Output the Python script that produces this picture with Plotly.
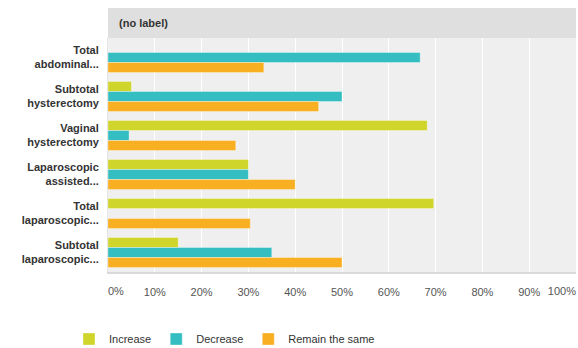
import plotly.graph_objects as go

categories = ["Total abdominal...", "Subtotal hysterectomy", "Vaginal hysterectomy",
              "Laparoscopic assisted...", "Total laparoscopic...", "Subtotal laparoscopic..."]
category_labels = ["<b>Total<br>abdominal...</b>", "<b>Subtotal<br>hysterectomy</b>",
                   "<b>Vaginal<br>hysterectomy</b>", "<b>Laparoscopic<br>assisted...</b>",
                   "<b>Total<br>laparoscopic...</b>", "<b>Subtotal<br>laparoscopic...</b>"]
series_names = ["Increase", "Decrease", "Remain the same"]
increase = [0, 5, 68.2, 30, 69.6, 15]
decrease = [66.7, 50, 4.5, 30, 0, 35]
remain = [33.3, 45, 27.3, 40, 30.4, 50]
colors = ["#cfd52a", "#34bec1", "#f8af21"]
mid_ticks = [10, 20, 30, 40, 50, 60, 70, 80, 90]
mid_tick_text = ["10%", "20%", "30%", "40%", "50%", "60%", "70%", "80%", "90%"]

font = "Liberation Sans, Arial, sans-serif"
fig = go.Figure()
for name, vals, col in zip(series_names, [increase, decrease, remain], colors):
    fig.add_trace(go.Bar(y=categories, x=vals, name=name, orientation="h",
                         marker=dict(color=col, line=dict(color="rgba(255,255,255,0.35)", width=1))))

# helper invisible traces for edge tick axes
fig.add_trace(go.Scatter(x=[0], y=[categories[0]], xaxis="x2", mode="markers",
                         marker=dict(opacity=0), showlegend=False, hoverinfo="skip"))
fig.add_trace(go.Scatter(x=[100], y=[categories[0]], xaxis="x3", mode="markers",
                         marker=dict(opacity=0), showlegend=False, hoverinfo="skip"))

tickfont = dict(family=font, size=11, color="#555555")
fig.update_layout(
    width=578, height=348,
    margin=dict(l=108, r=2, t=38, b=76, autoexpand=False),
    paper_bgcolor="white", plot_bgcolor="#efefef",
    barmode="group", bargap=0.23, bargroupgap=0,
    font=dict(family=font, size=11, color="#333333"),
    xaxis=dict(range=[0, 100], tickvals=mid_ticks, ticktext=mid_tick_text,
               showgrid=True, gridcolor="white", gridwidth=1, zeroline=False,
               showline=True, linecolor="#d9d9d9", linewidth=2, automargin=False,
               tickfont=tickfont, ticklabelstandoff=9, fixedrange=True),
    xaxis2=dict(range=[0, 100], overlaying="x", anchor="y", side="bottom",
                tickvals=[0], ticktext=["0%"], ticklabelposition="outside right",
                showgrid=False, zeroline=False, showline=False, tickfont=tickfont,
                ticklabelstandoff=11, automargin=False),
    xaxis3=dict(range=[0, 100], overlaying="x", anchor="y", side="bottom",
                tickvals=[100], ticktext=["100%"], ticklabelposition="outside left",
                showgrid=False, zeroline=False, showline=False, tickfont=tickfont,
                ticklabelstandoff=11, automargin=False),
    yaxis=dict(autorange="reversed", tickvals=categories, ticktext=category_labels,
               showgrid=False, showline=True, linecolor="#e4e4e4", linewidth=1,
               automargin=False,
               tickfont=dict(family=font, size=11, color="#333333"), ticklabelstandoff=6),
    legend=dict(orientation="h", xref="container", yref="container",
                x=69 / 578, xanchor="left", y=1 - 339 / 348, yanchor="middle",
                font=dict(family=font, size=11, color="#333333"), itemwidth=30,
                traceorder="normal"),
    showlegend=True,
    shapes=[dict(type="rect", xref="paper", yref="paper", x0=0, x1=1, y0=1, y1=1 + 30 / 234,
                 fillcolor="#dfdfdf", line=dict(width=0), layer="below")],
    annotations=[dict(text="<b>(no label)</b>", xref="paper", yref="paper", x=0, y=1 + 15 / 234,
                      xanchor="left", yanchor="middle", xshift=9, showarrow=False,
                      font=dict(family=font, size=11, color="#333333"))],
)
fig.write_html("out.html", config={"displayModeBar": False},
               post_script="document.body.style.margin='0';document.body.style.overflow='hidden';")
